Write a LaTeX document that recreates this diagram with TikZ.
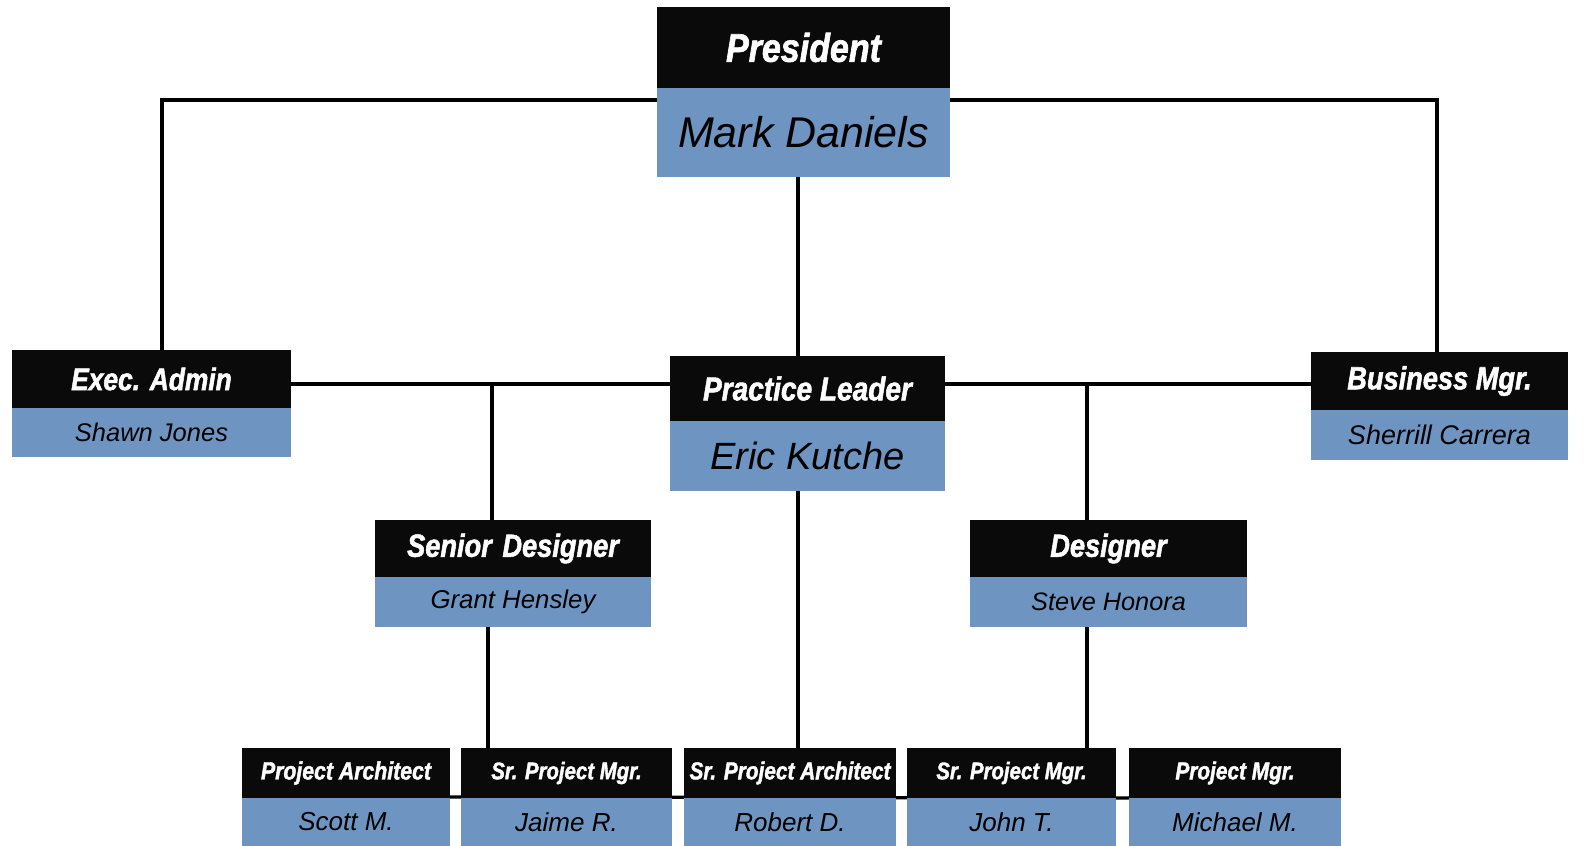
\documentclass[tikz,border=0pt]{standalone}
\usepackage{fontspec}
\setmainfont{Liberation Sans}
\newfontfamily\ttlfamily[FakeStretch=0.85,FakeBold=1.6]{Liberation Sans}
\newfontfamily\nmfamily{Liberation Sans}
\usetikzlibrary{backgrounds}
\definecolor{boxblack}{RGB}{10,10,10}
\definecolor{boxblue}{RGB}{110,149,193}
\newcommand\ttlf[1]{\ttlfamily\bfseries\itshape\fontsize{#1}{#1}\selectfont}
\newcommand\nmf[1]{\nmfamily\itshape\fontsize{#1}{#1}\selectfont}
\tikzset{
  ttl/.style={fill=boxblack, text=white, inner sep=0pt, outer sep=0pt, anchor=north west},
  nm/.style={fill=boxblue, text=black, inner sep=0pt, outer sep=0pt, anchor=north west},
  conn/.style={line width=3.2pt, black}
}
\begin{document}
\begin{tikzpicture}[x=1pt,y=1pt]
\useasboundingbox (0,0) rectangle (1585,846);
% President
\node[ttl, minimum width=293pt, minimum height=81pt, font=\ttlf{40}] (presT) at (657,839) {President};
\node[nm, minimum width=293pt, minimum height=89pt, font=\nmf{43}] (presN) at (657,758) {Mark Daniels};
% Exec admin
\node[ttl, minimum width=279pt, minimum height=58pt, font=\ttlf{31}] (execT) at (12,496) {Exec. Admin};
\node[nm, minimum width=279pt, minimum height=49pt, font=\nmf{25.5}] (execN) at (12,438) {Shawn Jones};
% Practice leader
\node[ttl, minimum width=275pt, minimum height=65pt, font=\ttlf{33}] (plT) at (670,490) {Practice Leader};
\node[nm, minimum width=275pt, minimum height=70pt, font=\nmf{38}] (plN) at (670,425) {Eric Kutche};
% Business mgr
\node[ttl, minimum width=257pt, minimum height=58pt, font=\ttlf{32}] (bmT) at (1311,494) {Business Mgr.};
\node[nm, minimum width=257pt, minimum height=50pt, font=\nmf{27}] (bmN) at (1311,436) {Sherrill Carrera};
% Senior designer
\node[ttl, minimum width=276pt, minimum height=57pt, font=\ttlf{32}] (sdT) at (375,326) {Senior\,\,Designer};
\node[nm, minimum width=276pt, minimum height=50pt, font=\nmf{25.8}] (sdN) at (375,269) {Grant Hensley};
% Designer
\node[ttl, minimum width=277pt, minimum height=57pt, font=\ttlf{32}] (dsT) at (970,326) {Designer};
\node[nm, minimum width=277pt, minimum height=50pt, font=\nmf{25.3}] (dsN) at (970,269) {Steve Honora};
% Bottom row
\node[ttl, minimum width=208pt, minimum height=50pt, font=\ttlf{25}] (paT) at (242,98) {Project Architect};
\node[nm, minimum width=208pt, minimum height=48pt, font=\nmf{26}] (paN) at (242,48) {Scott M.};
\node[ttl, minimum width=211pt, minimum height=50pt, font=\ttlf{24}] (spm1T) at (461,98) {Sr. Project Mgr.};
\node[nm, minimum width=211pt, minimum height=48pt, font=\nmf{26}] (spm1N) at (461,48) {Jaime R.};
\node[ttl, minimum width=212pt, minimum height=50pt, font=\ttlf{24.5}] (spaT) at (684,98) {Sr. Project Architect};
\node[nm, minimum width=212pt, minimum height=48pt, font=\nmf{26}] (spaN) at (684,48) {Robert D.};
\node[ttl, minimum width=209pt, minimum height=50pt, font=\ttlf{24}] (spm2T) at (907,98) {Sr. Project Mgr.};
\node[nm, minimum width=209pt, minimum height=48pt, font=\nmf{26}] (spm2N) at (907,48) {John T.};
\node[ttl, minimum width=212pt, minimum height=50pt, font=\ttlf{24.5}] (pmT) at (1129,98) {Project Mgr.};
\node[nm, minimum width=212pt, minimum height=48pt, font=\nmf{26}] (pmN) at (1129,48) {Michael M.};
% junction coordinates
\coordinate (pL) at (657,746);
\coordinate (pR) at (950,746);
\coordinate (eTop) at (162,496);
\coordinate (bTop) at (1437,494);
\coordinate (pBot) at (798,669);
\coordinate (plTop) at (798,490);
\coordinate (hL) at (291,462);
\coordinate (hR) at (1311,462);
\coordinate (sdTop) at (492,326);
\coordinate (dsTop) at (1087,326);
\coordinate (plBot) at (798,355);
\coordinate (spaTop) at (798,98);
\coordinate (sdBot) at (488,219);
\coordinate (spm1Top) at (488,98);
\coordinate (dsBot) at (1087,219);
\coordinate (spm2Top) at (1087,98);
\begin{pgfonlayer}{background}
\draw[conn] (pL) -| (eTop);
\draw[conn] (pR) -| (bTop);
\draw[conn] (pBot) -- (plTop);
\draw[conn] (hL) -- (hR);
\draw[conn] (sdTop |- hL) -- (sdTop);
\draw[conn] (dsTop |- hL) -- (dsTop);
\draw[conn] (plBot) -- (spaTop);
\draw[conn] (sdBot) -- (spm1Top);
\draw[conn] (dsBot) -- (spm2Top);
\draw[conn] (paT.south east) ++(0,1) -- (pmT.south west);
\end{pgfonlayer}
\end{tikzpicture}
\end{document}
